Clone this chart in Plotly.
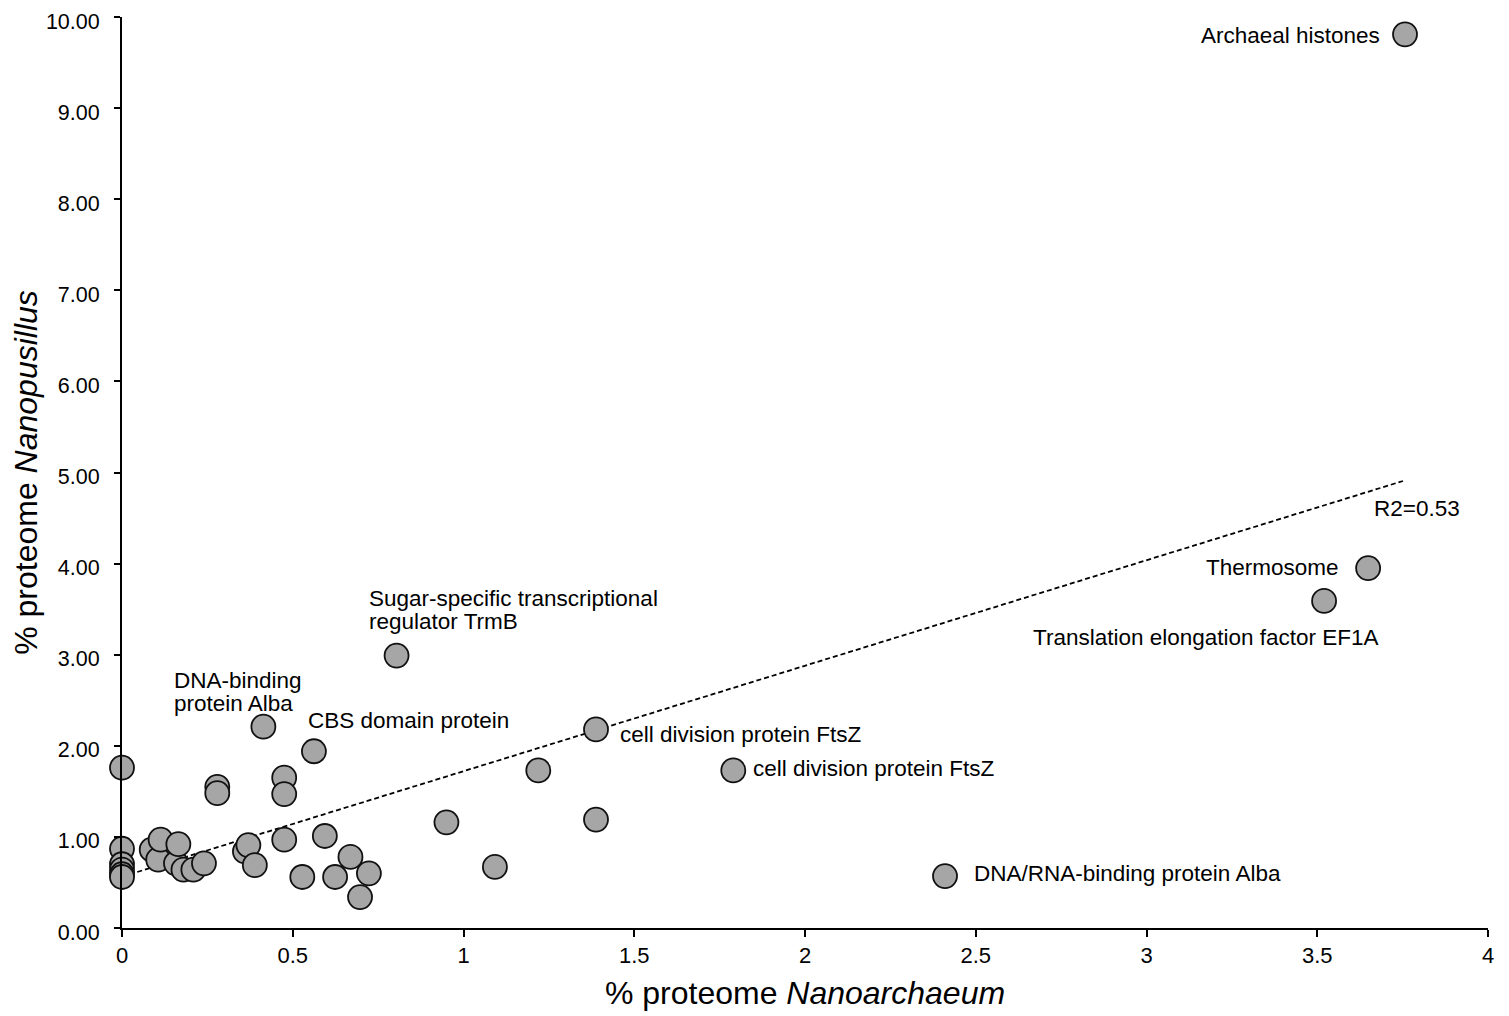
import plotly.graph_objects as go

# % proteome Nanoarchaeum (x) vs % proteome Nanopusillus (y)
x_vals = [0.0, 0.0, 0.0, 0.0, 0.0, 0.0,
          0.087, 0.106, 0.113, 0.158, 0.165, 0.180, 0.209, 0.240,
          0.279, 0.279, 0.360, 0.370, 0.389, 0.414,
          0.475, 0.475, 0.475, 0.528, 0.562, 0.594, 0.624, 0.669, 0.697, 0.723,
          0.804, 0.950, 1.092, 1.219, 1.388, 1.388, 1.790, 2.410,
          3.520, 3.649, 3.757]
y_vals = [1.76, 0.87, 0.70, 0.64, 0.59, 0.56,
          0.86, 0.75, 0.97, 0.71, 0.92, 0.64, 0.64, 0.71,
          1.55, 1.48, 0.84, 0.91, 0.69, 2.21,
          1.65, 1.47, 0.97, 0.56, 1.94, 1.01, 0.56, 0.78, 0.34, 0.60,
          2.99, 1.16, 0.67, 1.73, 2.18, 1.19, 1.73, 0.57,
          3.59, 3.95, 9.81]

# Linear trend line end points
trend_x = [0.0, 3.751]
trend_y = [0.563, 4.907]

# Labels (one entry per text line)
label_text = ["Archaeal histones", "R2=0.53", "Thermosome",
              "Translation elongation factor EF1A",
              "Sugar-specific transcriptional", "regulator TrmB",
              "DNA-binding", "protein Alba", "CBS domain protein",
              "cell division protein FtsZ", "cell division protein FtsZ",
              "DNA/RNA-binding protein Alba"]
label_x = [3.687, 3.663, 3.566, 3.684, 0.720, 0.720, 0.149, 0.149, 0.542,
           1.455, 1.845, 2.492]
label_y = [9.80, 4.61, 3.96, 3.19, 3.62, 3.36, 2.72, 2.46, 2.28,
           2.12, 1.75, 0.60]
label_anchor = ["right", "left", "right", "right", "left", "left", "left",
                "left", "left", "left", "left", "left"]

x_ticks = [0, 0.5, 1, 1.5, 2, 2.5, 3, 3.5, 4]
x_tick_text = ["0", "0.5", "1", "1.5", "2", "2.5", "3", "3.5", "4"]
y_ticks = [0, 1, 2, 3, 4, 5, 6, 7, 8, 9, 10]

FONT = "Liberation Sans, Arial, Helvetica, sans-serif"

fig = go.Figure()
fig.add_trace(go.Scatter(
    x=trend_x, y=trend_y, mode="lines",
    line=dict(color="black", width=1.8, dash="5px,3px"),
    hoverinfo="skip", showlegend=False))
fig.add_trace(go.Scatter(
    x=x_vals, y=y_vals, mode="markers",
    marker=dict(size=24, color="#a6a6a6", line=dict(color="#111111", width=1.8)),
    showlegend=False, cliponaxis=False))

for t, xx, yy, a in zip(label_text, label_x, label_y, label_anchor):
    fig.add_annotation(x=xx, y=yy, text=t, showarrow=False, xanchor=a,
                       yanchor="middle", align="left", borderpad=0,
                       font=dict(family=FONT, size=22.5, color="black"))

# page body has an 8px default margin; the figure is sized to fit inside the window
fig.update_layout(
    width=1501, height=1008,
    margin=dict(l=114, r=21, t=9, b=88, autoexpand=False),
    plot_bgcolor="white", paper_bgcolor="white",
    font=dict(family=FONT, color="black"),
    xaxis=dict(range=[0, 4], tickvals=x_ticks, ticktext=x_tick_text,
               showgrid=False, zeroline=False, showline=True, automargin=False,
               linecolor="black", linewidth=2, ticks="outside",
               ticklen=7, tickwidth=2, tickcolor="black",
               ticklabeloverflow="allow",
               tickfont=dict(size=22, family=FONT),
               title=dict(text="% proteome <i>Nanoarchaeum</i>",
                          font=dict(size=32, family=FONT), standoff=14)),
    yaxis=dict(range=[0, 10.0005], tickvals=y_ticks, tickformat=".2f",
               showgrid=False, zeroline=False, showline=True, automargin=False,
               linecolor="black", linewidth=2, ticks="outside",
               ticklen=6, tickwidth=2, tickcolor="black",
               ticklabelstandoff=10, ticklabeloverflow="allow",
               ticklabelshift=4,
               tickfont=dict(size=21.5, family=FONT),
               title=dict(text="% proteome <i>Nanopusillus</i>",
                          font=dict(size=32, family=FONT), standoff=14)),
)

fig.write_html("out.html")
